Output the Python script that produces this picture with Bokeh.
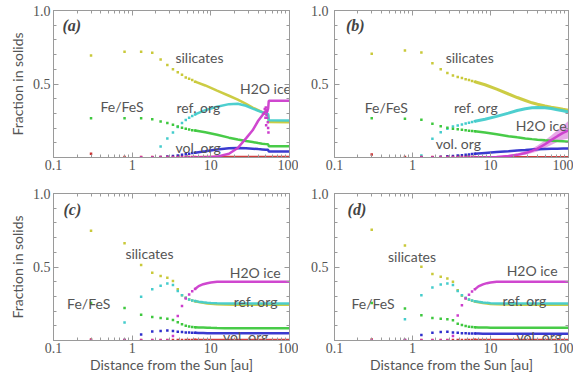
from bokeh.plotting import figure
from bokeh.models import FixedTicker, CustomJSTickFormatter, LogAxis, LinearAxis, Range1d
from bokeh.layouts import column, row
from bokeh.embed import file_html
from bokeh.resources import INLINE
from bokeh.core.properties import value

nan = float("nan")

# ---------------- data ----------------
X_MAJOR = [0.1, 1, 10, 100]
X_MINOR = [0.2, 0.3, 0.4, 0.5, 0.6, 0.7, 0.8, 0.9, 2, 3, 4, 5, 6, 7, 8, 9,
           20, 30, 40, 50, 60, 70, 80, 90]
Y_MAJOR = [0.5, 1.0]
Y_MINOR = [0.1, 0.2, 0.3, 0.4, 0.6, 0.7, 0.8, 0.9]

# radial grid of the individual model points (au)
DOT_X = [0.3, 0.8, 1.3, 1.8, 2.3, 2.8, 3.3, 3.8, 4.3, 4.8, 5.3, 5.8, 6.3]

# ---- panel (a) ----
A_SIL_DOT = [0.694, 0.720, 0.720, 0.712, 0.667, 0.630, 0.601, 0.580, 0.563, 0.545, 0.535, 0.527, 0.516]
A_REF_DOT = [nan, nan, nan, 0.0, 0.075, 0.130, 0.170, 0.208, 0.235, 0.255, 0.270, 0.283, 0.293]
A_FES_DOT = [0.267, 0.267, 0.267, 0.260, 0.245, 0.235, 0.222, 0.211, 0.202, 0.195, 0.190, 0.186, 0.183]
A_VOL_DOT = [nan, nan, nan, 0.0, 0.003, 0.007, 0.010, 0.014, 0.018, 0.022, 0.026, 0.030, 0.033]
A_ICE_DOT = [nan, nan, 0.0, 0.0, 0.0, 0.0, 0.0, 0.0, 0.0, 0.0, 0.0, 0.0, 0.0]
A_RED_DOT = [0.025, 0.003, 0.003, 0.003, 0.003, 0.003, 0.003, 0.003, 0.003, 0.003, 0.003, 0.003, 0.004]
A_X = [6.3, 8.5, 12, 17, 22, 28, 34, 40, 45, 50, 53.5, 54.5, 100]
A_SIL = [0.516, 0.490, 0.455, 0.420, 0.393, 0.365, 0.340, 0.322, 0.308, 0.296, 0.288, 0.242, 0.240]
A_REF = [0.293, 0.322, 0.345, 0.363, 0.366, 0.352, 0.332, 0.318, 0.308, 0.300, 0.296, 0.253, 0.252]
A_FES = [0.183, 0.172, 0.155, 0.135, 0.122, 0.112, 0.105, 0.098, 0.094, 0.091, 0.090, 0.077, 0.076]
A_VOL = [0.033, 0.043, 0.055, 0.063, 0.065, 0.063, 0.060, 0.057, 0.055, 0.053, 0.052, 0.041, 0.040]
A_ICE = [0.0, 0.0, 0.006, 0.025, 0.065, 0.130, 0.185, 0.250, 0.286, 0.318, 0.330, 0.386, 0.386]
A_RED = [0.004, 0.005, 0.005, 0.005, 0.005, 0.005, 0.005, 0.005, 0.005, 0.005, 0.005, 0.005, 0.005]
A_ICE_SCAT_X = [47, 48.5, 50, 51, 52, 52.5, 53, 53.5, 54, 49.5, 51.5, 50.5]
A_ICE_SCAT_Y = [0.30, 0.33, 0.34, 0.29, 0.27, 0.32, 0.24, 0.20, 0.17, 0.27, 0.31, 0.22]

# ---- panel (b) ----
B_SIL_DOT = [0.705, 0.728, 0.714, 0.642, 0.600, 0.575, 0.558, 0.547, 0.540, 0.533, 0.527, 0.521, 0.515]
B_REF_DOT = [nan, nan, 0.014, 0.127, 0.172, 0.195, 0.211, 0.218, 0.225, 0.232, 0.237, 0.242, 0.246]
B_FES_DOT = [0.267, 0.263, 0.257, 0.229, 0.213, 0.202, 0.196, 0.192, 0.188, 0.185, 0.182, 0.180, 0.178]
B_VOL_DOT = [nan, nan, 0.0, 0.002, 0.005, 0.008, 0.011, 0.014, 0.016, 0.019, 0.021, 0.023, 0.025]
B_ICE_DOT = [nan, nan, 0.0, 0.0, 0.0, 0.0, 0.0, 0.0, 0.0, 0.0, 0.0, 0.0, 0.0]
B_RED_DOT = [0.020, 0.003, 0.003, 0.003, 0.003, 0.003, 0.003, 0.003, 0.003, 0.003, 0.003, 0.003, 0.004]
B_X = [6.3, 8.5, 12, 17, 22, 28, 34, 40, 50, 60, 72, 85, 100]
B_SIL = [0.515, 0.495, 0.465, 0.432, 0.408, 0.388, 0.372, 0.362, 0.350, 0.342, 0.335, 0.328, 0.322]
B_REF = [0.246, 0.260, 0.280, 0.302, 0.320, 0.332, 0.338, 0.340, 0.338, 0.333, 0.325, 0.318, 0.310]
B_FES = [0.178, 0.170, 0.158, 0.145, 0.137, 0.130, 0.125, 0.121, 0.117, 0.114, 0.112, 0.110, 0.108]
B_VOL = [0.025, 0.031, 0.037, 0.043, 0.048, 0.051, 0.054, 0.056, 0.058, 0.059, 0.060, 0.061, 0.062]
B_ICE = [0.0, 0.0, 0.003, 0.010, 0.018, 0.030, 0.045, 0.060, 0.090, 0.118, 0.145, 0.168, 0.185]
B_ICE_LO = [0.0, 0.0, 0.0, 0.005, 0.010, 0.018, 0.030, 0.040, 0.065, 0.085, 0.105, 0.120, 0.130]
B_ICE_HI = [0.0, 0.0, 0.006, 0.016, 0.027, 0.045, 0.062, 0.082, 0.118, 0.150, 0.185, 0.215, 0.250]
B_RED = [0.004] * 13

# ---- panel (c) ----
C_SIL_DOT = [0.747, 0.662, 0.514, 0.461, 0.438, 0.427, 0.404, 0.349, 0.308, 0.290, 0.279, 0.272, 0.267]
C_REF_DOT = [nan, 0.123, 0.297, 0.349, 0.372, 0.388, 0.377, 0.336, 0.308, 0.290, 0.279, 0.272, 0.268]
C_FES_DOT = [0.255, 0.221, 0.176, 0.160, 0.153, 0.148, 0.139, 0.125, 0.110, 0.100, 0.095, 0.092, 0.090]
C_VOL_DOT = [nan, 0.004, 0.041, 0.062, 0.064, 0.068, 0.064, 0.060, 0.057, 0.055, 0.054, 0.053, 0.052]
C_ICE_DOT = [0.0, 0.0, 0.0, 0.0, 0.0, 0.0, 0.030, 0.166, 0.235, 0.286, 0.313, 0.335, 0.350]
C_RED_DOT = [0.006, 0.004, 0.004, 0.004, 0.004, 0.004, 0.004, 0.004, 0.004, 0.004, 0.004, 0.004, 0.005]
C_X = [6.3, 7, 8, 9, 10, 12, 15, 20, 30, 50, 100]
C_SIL = [0.267, 0.262, 0.256, 0.252, 0.250, 0.247, 0.245, 0.244, 0.244, 0.244, 0.244]
C_REF = [0.268, 0.264, 0.260, 0.257, 0.255, 0.253, 0.252, 0.252, 0.252, 0.252, 0.252]
C_FES = [0.090, 0.089, 0.088, 0.087, 0.086, 0.085, 0.084, 0.084, 0.084, 0.084, 0.084]
C_VOL = [0.052, 0.051, 0.051, 0.050, 0.050, 0.050, 0.050, 0.050, 0.050, 0.050, 0.050]
C_ICE = [0.350, 0.370, 0.383, 0.390, 0.395, 0.399, 0.400, 0.400, 0.400, 0.400, 0.400]
C_RED = [0.005] * 11

# ---- panel (d) ----
D_SIL_DOT = [0.753, 0.646, 0.502, 0.452, 0.434, 0.422, 0.400, 0.342, 0.305, 0.288, 0.278, 0.270, 0.265]
D_REF_DOT = [nan, 0.144, 0.308, 0.361, 0.381, 0.388, 0.377, 0.336, 0.308, 0.290, 0.279, 0.272, 0.267]
D_FES_DOT = [0.255, 0.217, 0.171, 0.153, 0.148, 0.144, 0.137, 0.114, 0.105, 0.098, 0.094, 0.091, 0.090]
D_VOL_DOT = [nan, 0.003, 0.037, 0.053, 0.057, 0.060, 0.055, 0.052, 0.050, 0.049, 0.048, 0.048, 0.047]
D_ICE_DOT = [0.0, 0.0, 0.0, 0.0, 0.0, 0.0, 0.030, 0.170, 0.240, 0.285, 0.312, 0.333, 0.348]
D_RED_DOT = [0.006, 0.004, 0.004, 0.004, 0.004, 0.004, 0.004, 0.004, 0.004, 0.004, 0.004, 0.004, 0.005]
D_X = [6.3, 7, 8, 9, 10, 12, 15, 20, 30, 50, 100]
D_SIL = [0.265, 0.260, 0.255, 0.251, 0.249, 0.246, 0.245, 0.244, 0.244, 0.244, 0.244]
D_REF = [0.267, 0.263, 0.259, 0.256, 0.254, 0.252, 0.251, 0.251, 0.251, 0.251, 0.251]
D_FES = [0.090, 0.089, 0.088, 0.088, 0.087, 0.087, 0.087, 0.087, 0.087, 0.087, 0.087]
D_VOL = [0.047, 0.047, 0.046, 0.046, 0.046, 0.046, 0.046, 0.046, 0.046, 0.046, 0.046]
D_ICE = [0.348, 0.368, 0.382, 0.390, 0.395, 0.399, 0.400, 0.400, 0.400, 0.400, 0.400]
D_RED = [0.005] * 11

# ---------------- styling ----------------
C_SIL_COL = "#c9c93a"
C_REF_COL = "#44cccc"
C_FES_COL = "#3ec83e"
C_VOL_COL = "#2f2fcc"
C_ICE_COL = "#cc3dcc"
C_RED_COL = "#cc3333"
FRAME = "#9a9a9a"
TXT = "#555555"
SANS = "Lato"
SERIF = "Liberation Serif"


def make_panel(w, h, bl, br, bt, bb, ytitle, xtitle, ystand):
    p = figure(width=w, height=h, x_axis_type="log",
               x_range=Range1d(0.1, 100), y_range=Range1d(0, 1),
               output_backend="svg", toolbar_location=None,
               min_border_left=bl, min_border_right=br,
               min_border_top=bt, min_border_bottom=bb)
    p.grid.visible = False
    p.outline_line_color = FRAME
    p.outline_line_width = 1
    p.background_fill_color = "white"
    p.border_fill_color = "white"

    xa = p.xaxis[0]
    xa.ticker = FixedTicker(ticks=X_MAJOR, minor_ticks=X_MINOR)
    xa.formatter = CustomJSTickFormatter(code="return tick < 1 ? tick.toFixed(1) : tick.toFixed(0);")
    ya = p.yaxis[0]
    ya.ticker = FixedTicker(ticks=Y_MAJOR, minor_ticks=Y_MINOR)
    ya.formatter = CustomJSTickFormatter(code="return tick.toFixed(1);")
    for ax in (xa, ya):
        ax.axis_line_color = FRAME
        ax.major_tick_line_color = FRAME
        ax.minor_tick_line_color = FRAME
        ax.major_tick_in = 5
        ax.major_tick_out = 0
        ax.minor_tick_in = 3
        ax.minor_tick_out = 0
        ax.major_label_text_font = SERIF
        ax.major_label_text_font_size = "14px"
        ax.major_label_text_color = TXT
        ax.axis_label_text_font = SANS
        ax.axis_label_text_font_size = "14px"
        ax.axis_label_text_font_style = "normal"
        ax.axis_label_text_color = TXT
    xa.major_label_standoff = 2
    ya.major_label_standoff = ystand
    if ytitle:
        ya.axis_label = ytitle
        ya.axis_label_standoff = 4
    if xtitle:
        xa.axis_label = xtitle
        xa.axis_label_standoff = 0

    top = LogAxis(ticker=FixedTicker(ticks=X_MAJOR, minor_ticks=X_MINOR),
                  formatter=CustomJSTickFormatter(code="return '';"))
    right = LinearAxis(ticker=FixedTicker(ticks=Y_MAJOR, minor_ticks=Y_MINOR),
                       formatter=CustomJSTickFormatter(code="return '';"))
    for ax in (top, right):
        ax.axis_line_color = FRAME
        ax.major_tick_line_color = FRAME
        ax.minor_tick_line_color = FRAME
        ax.major_tick_in = 5
        ax.major_tick_out = 0
        ax.minor_tick_in = 3
        ax.minor_tick_out = 0
        ax.major_label_text_font_size = "0px"
        ax.major_label_standoff = 0
    p.add_layout(top, "above")
    p.add_layout(right, "right")
    return p


def draw_series(p, dots, lines_x, lines, widths):
    cols = [C_SIL_COL, C_REF_COL, C_FES_COL, C_VOL_COL, C_RED_COL, C_ICE_COL]
    for c, ys, w in zip(cols, lines, widths):
        p.line(lines_x, ys, line_color=c, line_width=w, line_alpha=0.95)
    for c, ys in zip(cols, dots):
        p.scatter(DOT_X, ys, marker="square", size=2.5, fill_color=c, line_color=None)


def add_texts(p, xs, ys, texts):
    p.text(x=xs, y=ys, text=texts, text_font=value(SANS), text_font_size="14px",
           text_color=TXT, text_align="left", text_baseline="middle")


def add_tag(p, x, y, tag):
    p.text(x=[x], y=[y], text=[tag], text_font=value(SERIF), text_font_size="16px",
           text_font_style="bold italic", text_color="#444444",
           text_align="left", text_baseline="middle")


# ---- (a) ----
pa = make_panel(298, 188, 53, 9, 10, 31, "Fraction in solids", None, 3)
draw_series(pa, [A_SIL_DOT, A_REF_DOT, A_FES_DOT, A_VOL_DOT, A_RED_DOT, A_ICE_DOT],
            A_X, [A_SIL, A_REF, A_FES, A_VOL, A_RED, A_ICE], [2.5, 2.5, 2.5, 2.5, 2, 2.5])
pa.scatter(A_ICE_SCAT_X, A_ICE_SCAT_Y, marker="square", size=2.5, fill_color=C_ICE_COL, line_color=None)
add_texts(pa, [3.55, 0.395, 3.66, 3.55, 23.5], [0.678, 0.347, 0.338, 0.070, 0.467],
          ["silicates", "Fe/FeS", "ref. org", "vol. org", "H2O ice"])
add_tag(pa, 0.13, 0.90, "(a)")

# ---- (b) ----
pb = make_panel(275, 188, 36, 5, 10, 31, None, None, 6)
pb.varea(x=B_X, y1=B_ICE_LO, y2=B_ICE_HI, fill_color=C_ICE_COL, fill_alpha=0.45)
draw_series(pb, [B_SIL_DOT, B_REF_DOT, B_FES_DOT, B_VOL_DOT, B_RED_DOT, B_ICE_DOT],
            B_X, [B_SIL, B_REF, B_FES, B_VOL, B_RED, B_ICE], [3, 3, 2.5, 2.5, 2, 2.5])
add_texts(pb, [2.66, 0.244, 3.4, 21.0, 1.98], [0.678, 0.338, 0.342, 0.218, 0.097],
          ["silicates", "Fe/FeS", "ref. org", "H2O ice", "vol. org"])
add_tag(pb, 0.14, 0.90, "(b)")

# ---- (c) ----
pc = make_panel(298, 189, 53, 9, 5, 37, "Fraction in solids", "Distance from the Sun [au]", 3)
draw_series(pc, [C_SIL_DOT, C_REF_DOT, C_FES_DOT, C_VOL_DOT, C_RED_DOT, C_ICE_DOT],
            C_X, [C_SIL, C_REF, C_FES, C_VOL, C_RED, C_ICE], [2.5, 2.5, 2.5, 2.5, 2, 2.5])
add_texts(pc, [0.82, 17.4, 0.149, 19.5, 14.3], [0.594, 0.464, 0.251, 0.267, 0.030],
          ["silicates", "H2O ice", "Fe/FeS", "ref. org", "vol. org"])
add_tag(pc, 0.134, 0.89, "(c)")

# ---- (d) ----
pd_ = make_panel(275, 189, 36, 5, 5, 37, None, "Distance from the Sun [au]", 6)
draw_series(pd_, [D_SIL_DOT, D_REF_DOT, D_FES_DOT, D_VOL_DOT, D_RED_DOT, D_ICE_DOT],
            D_X, [D_SIL, D_REF, D_FES, D_VOL, D_RED, D_ICE], [2.5, 2.5, 2.5, 2.5, 2, 2.5])
add_texts(pd_, [0.485, 16.1, 0.165, 14.3, 21.6], [0.571, 0.473, 0.251, 0.274, 0.030],
          ["silicates", "H2O ice", "Fe/FeS", "ref. org", "vol. org"])
add_tag(pd_, 0.147, 0.89, "(d)")

layout = column(row(pa, pb), row(pc, pd_))
open("out.html", "w").write(file_html(layout, INLINE))
